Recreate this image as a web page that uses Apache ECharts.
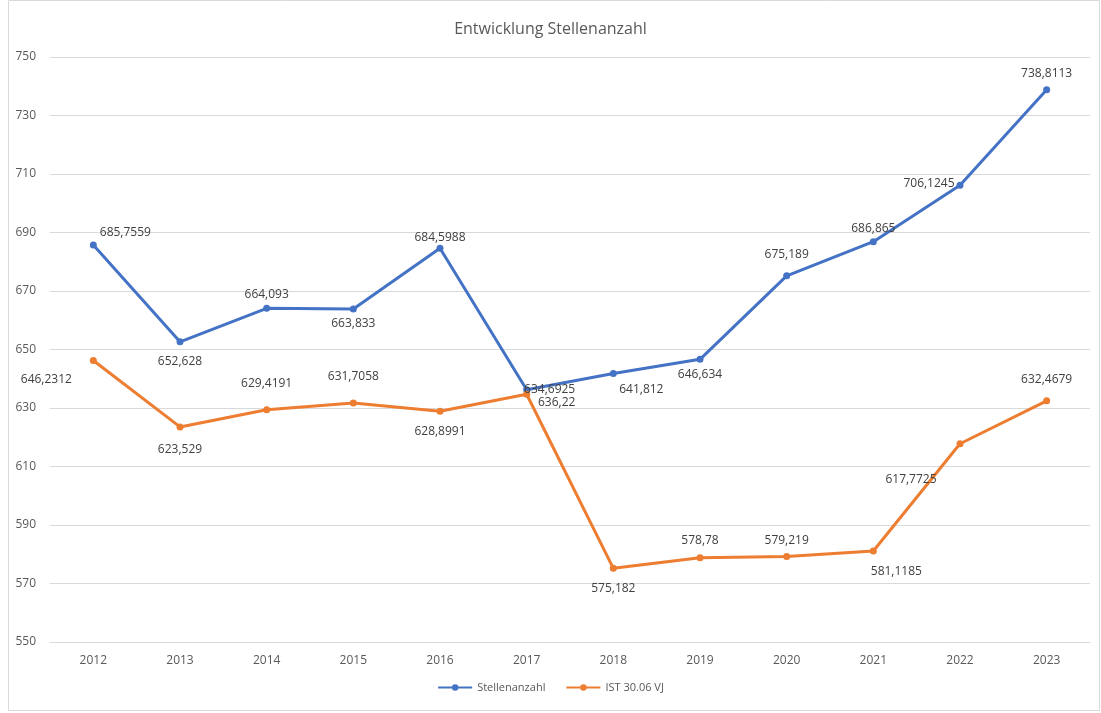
<!DOCTYPE html>
<html><head><meta charset="utf-8">
<script src="https://cdn.jsdelivr.net/npm/echarts@6/dist/echarts.min.js"></script>
<style>html,body{margin:0;padding:0;background:#fff}#c{width:1101px;height:713px}</style>
</head><body><div id="c"></div>
<script>
const years = ['2012','2013','2014','2015','2016','2017','2018','2019','2020','2021','2022','2023'];
const stellenanzahl = [685.7559, 652.628, 664.093, 663.833, 684.5988, 636.22, 641.812, 646.634, 675.189, 686.865, 706.1245, 738.8113];
const ist3006VJ = [646.2312, 623.529, 629.4191, 631.7058, 628.8991, 634.6925, 575.182, 578.78, 579.219, 581.1185, 617.7725, 632.4679];

// label offsets [dx, dy] relative to point (style only)
const blueOff = [[32,-12],[0,20],[0,-14],[0,15],[0,-11],[30,13],[28,16],[0,15],[0,-21],[0,-13],[-31,-2],[0,-16]];
const orangeOff = [[-47,19],[0,23],[0,-26],[0,-26],[0,20],[23,-5],[0,20],[0,-17],[0,-16],[23,21],[-49,36],[0,-21]];

function fmt(v){ return String(v).replace('.', ','); }
function build(vals, offs){
  return vals.map((v,i)=>({value:v, label:{show:true, position:'inside', offset:offs[i], formatter:fmt(v), color:'#404040', fontSize:12, fontFamily:'Open Sans'}}));
}
const chart = echarts.init(document.getElementById('c'));
chart.setOption({
  animation:false,
  backgroundColor:'#fff',
  title:{text:'Entwicklung Stellenanzahl', left:'center', top:16, textStyle:{fontSize:16, fontWeight:'normal', color:'#595959', fontFamily:'Open Sans'}},
  graphic:[{type:'rect', shape:{x:8.5,y:0.5,width:1091,height:710}, style:{fill:'none', stroke:'#d9d9d9', lineWidth:1}}],
  grid:{left:50, right:11, top:57, bottom:71, containLabel:false},
  legend:{bottom:15, left:'center', itemWidth:34, itemHeight:8, itemGap:20, textStyle:{color:'#595959', fontSize:11, fontFamily:'Open Sans'},
    data:['Stellenanzahl','IST 30.06 VJ']},
  xAxis:{type:'category', data:years, boundaryGap:true,
    axisLine:{lineStyle:{color:'#d9d9d9'}}, axisTick:{show:false},
    axisLabel:{color:'#595959', fontSize:12, margin:13, fontFamily:'Open Sans'}},
  yAxis:{type:'value', min:550, max:750, interval:20,
    axisLine:{show:false}, axisTick:{show:false},
    splitLine:{lineStyle:{color:'#d9d9d9'}},
    axisLabel:{color:'#595959', fontSize:12, margin:14, fontFamily:'Open Sans'}},
  series:[
    {name:'Stellenanzahl', type:'line', data:build(stellenanzahl, blueOff), symbol:'circle', symbolSize:7,
      lineStyle:{color:'#4472C4', width:3}, itemStyle:{color:'#4472C4'}},
    {name:'IST 30.06 VJ', type:'line', data:build(ist3006VJ, orangeOff), symbol:'circle', symbolSize:7,
      lineStyle:{color:'#ED7D31', width:3}, itemStyle:{color:'#ED7D31'}}
  ]
});
</script></body></html>
